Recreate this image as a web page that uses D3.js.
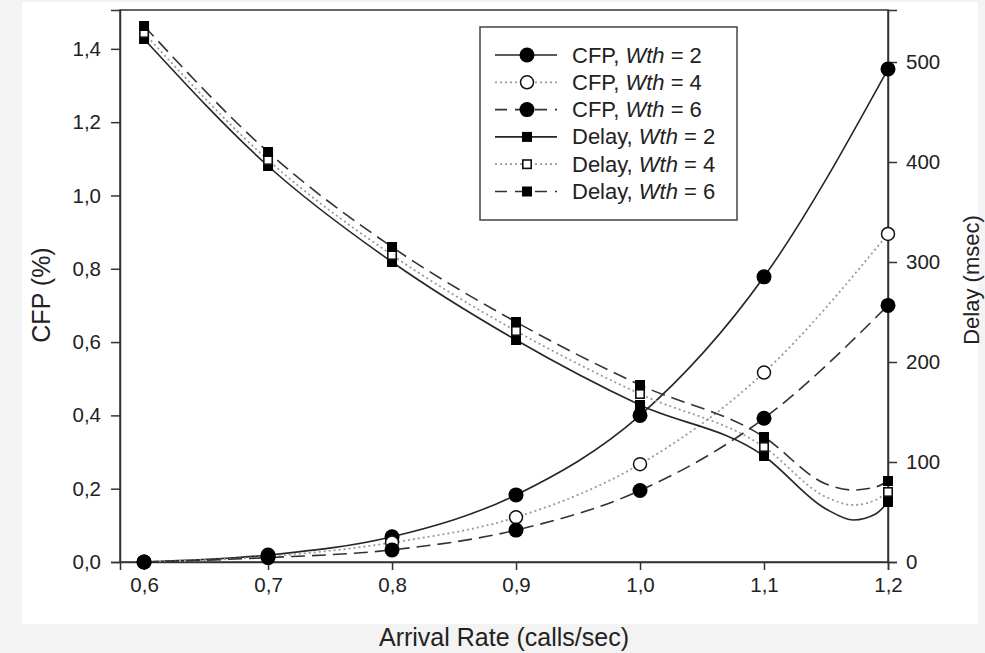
<!DOCTYPE html>
<html>
<head>
<meta charset="utf-8">
<script src="https://cdn.jsdelivr.net/npm/d3@7"></script>
<style>
  html, body { margin: 0; padding: 0; background: #f3f3f3; }
  svg { display: block; }
  text { font-family: "Liberation Sans", Arial, sans-serif; fill: #222; }
</style>
</head>
<body>
<svg id="chart" width="985" height="653"></svg>
<script>
// Arrival rates (calls/sec) where each series was measured
const rates = [0.6, 0.7, 0.8, 0.9, 1.0, 1.1, 1.2];

// Call failure probability (%) per threshold Wth
const cfpW2 = [0.0, 0.019, 0.069, 0.183, 0.400, 0.778, 1.345];
const cfpW4 = [0.0, 0.015, 0.053, 0.122, 0.267, 0.517, 0.895];
const cfpW6 = [0.0, 0.012, 0.033, 0.087, 0.195, 0.392, 0.700];

// Delay (msec) per threshold Wth
const delayW2 = [523, 396, 300, 222, 157, 106, 60];
const delayW4 = [529, 402, 307, 231, 168, 115, 70];
const delayW6 = [536, 410, 315, 240, 177, 125, 81];

// Fitted delay curve between 1.1 and 1.2 dips below the last measurement
const troughRates = [1.15, 1.172, 1.19];
const delayTroughW2 = [53, 42, 48];
const delayTroughW4 = [65, 57, 62];
const delayTroughW6 = [78, 72, 75];

// Axis ticks
const xTicks = [0.6, 0.7, 0.8, 0.9, 1.0, 1.1, 1.2];
const cfpTicks = [0, 0.2, 0.4, 0.6, 0.8, 1.0, 1.2, 1.4];
const delayTicks = [0, 100, 200, 300, 400, 500];

const legendLabels = ["CFP, ", "CFP, ", "CFP, ", "Delay, ", "Delay, ", "Delay, "];
const legendWth = ["2", "4", "6", "2", "4", "6"];

const svg = d3.select("#chart");
const plot = { left: 120, right: 888, top: 10, bottom: 562 };

// card background
svg.append("rect").attr("x", 22).attr("y", 2).attr("width", 956).attr("height", 622)
  .attr("fill", "#ffffff");

const x = d3.scaleLinear().domain([0.5806, 1.2]).range([plot.left, plot.right]);
const yL = d3.scaleLinear().domain([0, 1.506]).range([plot.bottom, plot.top]);
const yR = d3.scaleLinear().domain([0, 552]).range([plot.bottom, plot.top]);

const comma = v => d3.format(".1f")(v).replace(".", ",");
const axisColor = "#333";

// frame
svg.append("rect")
  .attr("x", plot.left).attr("y", plot.top)
  .attr("width", plot.right - plot.left).attr("height", plot.bottom - plot.top)
  .attr("fill", "none").attr("stroke", axisColor).attr("stroke-width", 1.5);

function styleAxis(g, fontSize) {
  g.select(".domain").attr("stroke", axisColor).attr("stroke-width", 1.5);
  g.selectAll(".tick line").attr("stroke", axisColor).attr("stroke-width", 1.5);
  g.selectAll(".tick text").attr("font-size", fontSize).attr("fill", "#222")
    .style("font-family", "'Liberation Sans', Arial, sans-serif");
}

const gx = svg.append("g").attr("transform", `translate(0,${plot.bottom})`)
  .call(d3.axisBottom(x).tickValues(xTicks).tickFormat(comma).tickSizeOuter(0).tickSize(8).tickPadding(7));
styleAxis(gx, 20.5);

const gl = svg.append("g").attr("transform", `translate(${plot.left},0)`)
  .call(d3.axisLeft(yL).tickValues(cfpTicks).tickFormat(comma).tickSizeOuter(0).tickSize(9).tickPadding(10));
styleAxis(gl, 20.5);

const gr = svg.append("g").attr("transform", `translate(${plot.right},0)`)
  .call(d3.axisRight(yR).tickValues(delayTicks).tickFormat(d3.format("d")).tickSizeOuter(0).tickSize(9).tickPadding(9));
styleAxis(gr, 20.5);

// axis titles
svg.append("text").attr("x", (plot.left + plot.right) / 2).attr("y", 646)
  .attr("text-anchor", "middle").attr("font-size", 25).text("Arrival Rate (calls/sec)");
svg.append("text").attr("transform", `translate(50,${(plot.top + plot.bottom) / 2 + 9}) rotate(-90)`)
  .attr("text-anchor", "middle").attr("font-size", 25).text("CFP (%)");
svg.append("text").attr("transform", `translate(979,${(plot.top + plot.bottom) / 2 - 6}) rotate(-90)`)
  .attr("text-anchor", "middle").attr("font-size", 22).text("Delay (msec)");

// line styles
const styles = {
  solid: { stroke: "#262626", dash: null, width: 1.6 },
  dotted: { stroke: "#9a9a9a", dash: "2,3", width: 1.8 },
  dashed: { stroke: "#333", dash: "14,7", width: 1.6 }
};

const series = [
  { kind: "cfp", vals: cfpW2, style: "solid", marker: "circle", fill: "#000" },
  { kind: "cfp", vals: cfpW4, style: "dotted", marker: "circle", fill: "#fff" },
  { kind: "cfp", vals: cfpW6, style: "dashed", marker: "circle", fill: "#000" },
  { kind: "delay", vals: delayW2, trough: delayTroughW2, style: "solid", marker: "square", fill: "#000" },
  { kind: "delay", vals: delayW4, trough: delayTroughW4, style: "dotted", marker: "square", fill: "#fff" },
  { kind: "delay", vals: delayW6, trough: delayTroughW6, style: "dashed", marker: "square", fill: "#000" }
];

svg.append("clipPath").attr("id", "plotclip").append("rect")
  .attr("x", plot.left).attr("y", plot.top)
  .attr("width", plot.right - plot.left).attr("height", plot.bottom - plot.top);

const linesG = svg.append("g").attr("clip-path", "url(#plotclip)");

series.forEach(s => {
  const y = s.kind === "cfp" ? yL : yR;
  let pts = rates.map((r, i) => [r, s.vals[i]]);
  if (s.trough) {
    pts = pts.concat(troughRates.map((r, i) => [r, s.trough[i]])).sort((a, b) => a[0] - b[0]);
  }
  const line = d3.line().x(d => x(d[0])).y(d => y(d[1])).curve(d3.curveMonotoneX);
  const st = styles[s.style];
  linesG.append("path").attr("d", line(pts)).attr("fill", "none")
    .attr("stroke", st.stroke).attr("stroke-width", st.width)
    .attr("stroke-dasharray", st.dash);
});

function drawMarker(g, type, fill, cx, cy) {
  if (type === "circle") {
    if (fill === "#000") {
      g.append("circle").attr("cx", cx).attr("cy", cy).attr("r", 7.5).attr("fill", "#000");
    } else {
      g.append("circle").attr("cx", cx).attr("cy", cy).attr("r", 6.5)
        .attr("fill", "#fff").attr("stroke", "#111").attr("stroke-width", 1.5);
    }
  } else {
    if (fill === "#000") {
      g.append("rect").attr("x", cx - 5).attr("y", cy - 5).attr("width", 10).attr("height", 10).attr("fill", "#000");
    } else {
      g.append("rect").attr("x", cx - 4.2).attr("y", cy - 4.2).attr("width", 8.4).attr("height", 8.4)
        .attr("fill", "#fff").attr("stroke", "#111").attr("stroke-width", 1.6);
    }
  }
}

const markG = svg.append("g");
series.forEach(s => {
  const y = s.kind === "cfp" ? yL : yR;
  rates.forEach((r, i) => drawMarker(markG, s.marker, s.fill, x(r), y(s.vals[i])));
});

// legend
const lg = svg.append("g");
lg.append("rect").attr("x", 480).attr("y", 27).attr("width", 257).attr("height", 193)
  .attr("fill", "#fff").attr("stroke", "#444").attr("stroke-width", 1.5);
series.forEach((s, i) => {
  const ry = 55 + i * 27.3;
  const st = styles[s.style];
  lg.append("line").attr("x1", 495).attr("x2", 557).attr("y1", ry).attr("y2", ry)
    .attr("stroke", st.stroke).attr("stroke-width", st.width)
    .attr("stroke-dasharray", s.style === "dashed" ? "12,8" : st.dash);
  drawMarker(lg, s.marker, s.fill, 527, ry);
  const t = lg.append("text").attr("x", 572).attr("y", ry + 7.5).attr("font-size", 22);
  t.append("tspan").text(legendLabels[i]);
  t.append("tspan").attr("font-style", "italic").text("Wth");
  t.append("tspan").text(" = " + legendWth[i]);
});
</script>
</body>
</html>
